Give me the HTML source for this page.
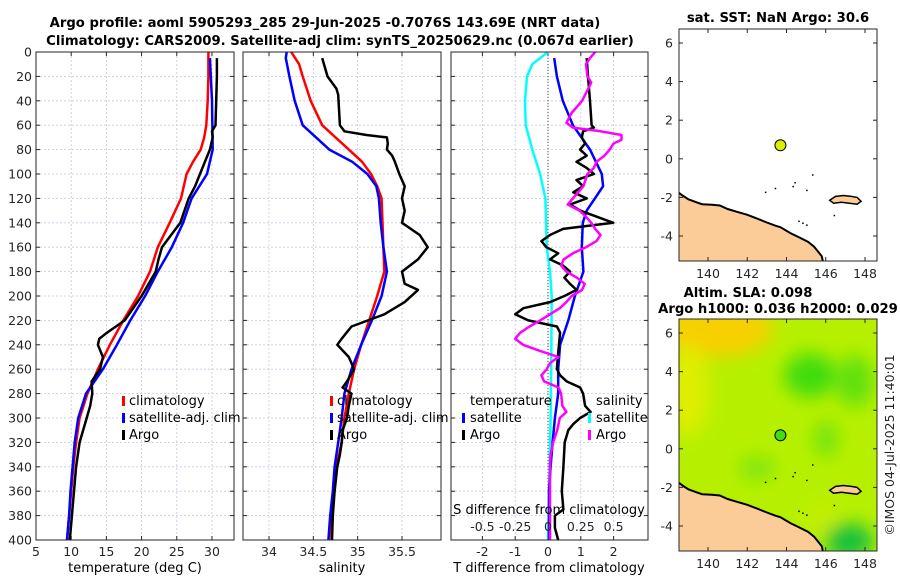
<!DOCTYPE html>
<html><head><meta charset="utf-8">
<style>
html,body{margin:0;padding:0;background:#fff;}
svg{display:block;font-family:"DejaVu Sans","Liberation Sans",sans-serif;}
.tk{font-size:12.5px;fill:#262626;}
.tt{font-size:13.2px;font-weight:bold;fill:#000;}
.lg{font-size:13px;fill:#000;}
</style></head>
<body>
<svg id="fig" width="900" height="580" viewBox="0 0 900 580">
<defs>
<clipPath id="c1"><rect x="36" y="52" width="198" height="488"/></clipPath>
<clipPath id="c2"><rect x="243" y="52" width="198" height="488"/></clipPath>
<clipPath id="c3"><rect x="451" y="52" width="197" height="488"/></clipPath>
<clipPath id="cm1"><rect x="679" y="29" width="198" height="232"/></clipPath>
<clipPath id="cm2"><rect x="679" y="319" width="198" height="232"/></clipPath>
<filter id="blur" x="-50%" y="-50%" width="200%" height="200%"><feGaussianBlur stdDeviation="9"/></filter>
</defs>
<text class="tt" x="325" y="27" text-anchor="middle">Argo profile: aoml 5905293_285 29-Jun-2025 -0.7076S 143.69E (NRT data)</text>
<text class="tt" x="340" y="45" text-anchor="middle">Climatology: CARS2009. Satellite-adj clim: synTS_20250629.nc (0.067d earlier)</text>
<g id="g1"></g>
<g id="g2"></g>
<g id="g3"></g>
<g id="m1"></g>
<g id="m2"></g>
<text class="tt" x="778" y="22" text-anchor="middle">sat. SST: NaN Argo: 30.6</text>
<text class="tt" x="748" y="297" text-anchor="middle">Altim. SLA: 0.098</text>
<text class="tt" x="778" y="313" text-anchor="middle">Argo h1000: 0.036 h2000: 0.029</text>
<text class="tk" transform="translate(894,445) rotate(-90)" text-anchor="middle">©IMOS 04-Jul-2025 11:40:01</text>
</svg>
<script>
// ---------- data ----------
const depthTicks=[0,20,40,60,80,100,120,140,160,180,200,220,240,260,280,300,320,340,360,380,400];
const tempTicks=[5,10,15,20,25,30];
const salTicks=[34,34.5,35,35.5];
const sTickLabels=["-0.5","-0.25","0","0.25","0.5"];
const sTicks=[-0.5,-0.25,0,0.25,0.5];
const tdTicks=[-2,-1,0,1,2];
const climTD=[0,20,40,60,70,80,90,100,120,140,160,180,200,220,240,260,280,300,320,340,360,380,400];
const climT=[29.5,29.5,29.4,29.2,28.9,28.4,27.3,26.4,25.6,24.0,22.3,21.2,19.5,17.4,15.5,13.8,12.3,11.2,10.7,10.3,10.0,9.7,9.4];
const satTD=[5,40,80,100,120,140,160,180,200,220,240,260,280,300,320,340,360,380,400];
const satT=[29.7,30.0,30.1,29.3,27.1,25.9,24.3,22.3,20.5,18.4,16.5,14.5,12.1,11.0,10.5,10.2,9.9,9.7,9.4];
const argoTD=[5,20,60,65,70,80,90,100,110,120,140,150,160,170,180,200,220,230,235,240,250,260,270,280,290,300,320,340,360,380,400];
const argoT=[30.7,30.7,30.5,30.0,30.1,29.7,29.0,28.3,27.6,26.7,25.5,24.2,22.9,22.4,22.0,20.0,17.6,15.1,14.0,13.8,14.5,14.1,12.9,13.0,12.7,12.2,11.2,10.7,10.4,10.1,9.8];
const climSD=[0,10,20,40,60,80,90,100,110,120,140,160,180,200,220,240,260,280,300,320,340,360,380,400];
const climS=[34.25,34.34,34.38,34.47,34.6,34.9,35.05,35.15,35.22,35.27,35.28,35.29,35.3,35.22,35.13,35.04,34.96,34.9,34.85,34.82,34.76,34.73,34.7,34.68];
const satSD=[0,5,20,40,60,80,90,100,110,120,140,160,180,200,220,240,260,280,300,320,340,360,380,400];
const satS=[34.2,34.19,34.23,34.29,34.38,34.68,34.94,35.11,35.21,35.24,35.26,35.29,35.33,35.27,35.16,35.04,34.93,34.85,34.82,34.78,34.74,34.72,34.69,34.67];
const argoSD=[5,20,30,35,60,65,68,70,75,80,85,90,100,110,120,130,140,150,160,170,180,190,195,205,215,225,235,240,250,260,270,275,280,290,300,310,320,330,340,360,380,400];
const argoS=[34.6,34.66,34.76,34.78,34.8,34.85,35.1,35.33,35.34,35.33,35.39,35.42,35.47,35.53,35.5,35.53,35.5,35.7,35.79,35.68,35.5,35.53,35.68,35.53,35.3,34.93,34.82,34.77,34.9,34.96,34.88,34.83,34.93,34.9,34.88,34.83,34.82,34.8,34.77,34.74,34.72,34.71];
const dSatSD=[0,5,10,20,40,60,80,100,120,140,160,180,200,250,300,350,400];
const dSatS=[0,-0.06,-0.12,-0.16,-0.175,-0.17,-0.12,-0.06,-0.02,-0.015,-0.01,0.015,0.028,0.025,0.02,0.01,0.0];
const dSatTD=[5,20,40,60,80,100,110,120,130,140,160,180,200,220,240,260,280,300,320,340,360,400];
const dSatT=[0.19,0.27,0.45,0.76,1.28,1.64,1.68,1.43,1.18,1.06,1.03,1.08,0.82,0.62,0.37,0.31,0.31,0.21,0.14,0.08,0.03,0.03];
const dArgoTD=[5,20,40,60,62,65,70,75,80,85,90,95,100,105,110,115,120,125,130,140,145,150,155,160,165,170,175,180,185,190,195,200,205,210,215,220,225,230,250,260,265,270,275,280,290,295,300,305,310,320,340,360,375,380,390,400];
const dArgoT=[1.18,1.22,1.28,1.33,1.4,1.07,1.03,1.13,0.98,1.18,0.87,1.18,1.4,0.87,1.07,0.77,1.18,0.67,0.98,1.99,0.46,0.06,-0.2,-0.05,0.31,0.06,0.46,0.67,0.5,0.67,0.87,0.5,0.06,-0.75,-1.0,-0.6,0.27,0.37,0.3,0.27,0.37,0.57,0.98,1.07,1.13,1.3,0.98,0.77,0.62,0.51,0.47,0.42,0.47,0.21,0.21,0.31];
const dArgoSD=[0,5,10,20,25,40,50,58,62,65,68,72,75,80,85,90,95,100,110,120,125,130,135,140,145,150,155,160,165,170,175,180,185,190,195,200,205,210,215,220,225,230,235,240,245,250,255,260,265,270,275,280,290,295,300,310,320,330,340,400];
const dArgoS=[0.36,0.32,0.29,0.3,0.33,0.26,0.18,0.14,0.19,0.4,0.56,0.56,0.5,0.47,0.43,0.37,0.35,0.3,0.27,0.19,0.15,0.24,0.29,0.33,0.36,0.4,0.37,0.29,0.19,0.12,0.1,0.14,0.22,0.28,0.26,0.18,0.14,0.09,0.015,-0.06,-0.14,-0.21,-0.25,-0.19,-0.06,0.08,0.015,-0.01,-0.05,-0.03,0.08,0.1,0.11,0.14,0.09,0.07,0.04,0.02,0.015,0.015];
const lonTicks=[140,142,144,146,148];
const latTicks=[6,4,2,0,-2,-4];
const coastLon=[138.5,138.7,139.0,139.4,139.7,140.2,140.6,141.0,141.5,142.0,142.5,143.0,143.4,143.7,144.2,144.7,145.1,145.4,145.6,145.8,145.85];
const coastLat=[-1.75,-1.9,-2.1,-2.25,-2.35,-2.38,-2.42,-2.6,-2.75,-2.9,-3.1,-3.3,-3.45,-3.55,-3.85,-4.1,-4.3,-4.55,-4.8,-5.05,-5.3];
const islandLon=[146.2,146.5,146.9,147.3,147.6,147.8,147.6,147.2,146.8,146.4,146.2];
const islandLat=[-2.15,-1.95,-1.9,-1.95,-2.0,-2.2,-2.35,-2.3,-2.25,-2.3,-2.15];
const dotLon=[142.9,143.4,144.3,144.4,145.0,145.3,146.4,144.6,144.8,145.0];
const dotLat=[-1.7,-1.5,-1.4,-1.2,-1.6,-0.8,-2.9,-3.2,-3.3,-3.4];
const argoLon=143.69, argoLat=0.7;
// ---------- helpers ----------
const NS="http://www.w3.org/2000/svg";
function mk(tag,attrs,parent){const e=document.createElementNS(NS,tag);for(const k in attrs)e.setAttribute(k,attrs[k]);parent.appendChild(e);return e;}
function lin(d0,d1,r0,r1){return v=>r0+(v-d0)*(r1-r0)/(d1-d0);}
const yD=lin(0,400,52,540);
function series(g,xs,ds,sx,color,w,name,clip){
  const p=xs.map((v,i)=>sx(v).toFixed(1)+","+yD(ds[i]).toFixed(1)).join(" ");
  const e=mk("polyline",{points:p,fill:"none",stroke:color,"stroke-width":w,"stroke-linejoin":"round","clip-path":clip},g);
  
  
}
function frame(g,x0,x1,sx,xt,xl,showY){
  for(const d of depthTicks){const y=yD(d);
    if(d>0&&d<400){const gl=mk("line",{x1:x0,x2:x1,y1:y,y2:y,stroke:"#c4c8e4","stroke-width":0.8,"stroke-dasharray":"2,2"},g);
      
      }
    mk("line",{x1:x0,x2:x0+4,y1:y,y2:y,stroke:"#262626"},g);mk("line",{x1:x1-4,x2:x1,y1:y,y2:y,stroke:"#262626"},g);
    if(showY){const t=mk("text",{x:x0-4,y:y+4.5,"text-anchor":"end",class:"tk"},g);t.textContent=d;
      
      }
  }
  xt.forEach((v,i)=>{const x=sx(v);
    const gl=mk("line",{x1:x,x2:x,y1:52,y2:540,stroke:"#c4c8e4","stroke-width":0.8,"stroke-dasharray":"2,2"},g);
    
    
    mk("line",{x1:x,x2:x,y1:540,y2:536,stroke:"#262626"},g);mk("line",{x1:x,x2:x,y1:52,y2:56,stroke:"#262626"},g);
    if(xl){const t=mk("text",{x:x,y:556,"text-anchor":"middle",class:"tk"},g);t.textContent=xl[i];
      
      }
  });
}
function box(g,x0,y0,w,h){const r=mk("rect",{x:x0,y:y0,width:w,height:h,fill:"none",stroke:"#262626","stroke-width":1},g);
  
  }
function txt(g,x,y,s,cls,anchor,name){const t=mk("text",{x:x,y:y,class:cls,"text-anchor":anchor||"start"},g);t.textContent=s;
  
  return t;}
function sw(g,x,y,color){const r=mk("rect",{x:x,y:y-9,width:3,height:10,fill:color},g);
  
  }
// ---------- panel 1 ----------
const g1=document.getElementById("g1");
const sxT=lin(5,33.13,36,234);
frame(g1,36,234,sxT,tempTicks,tempTicks,true);
series(g1,climT,climTD,sxT,"#ff0000",2.5,"climatology-temp-line","url(#c1)");
series(g1,satT,satTD,sxT,"#0000ff",2.5,"satellite-temp-line","url(#c1)");
series(g1,argoT,argoTD,sxT,"#000000",2.5,"argo-temp-line","url(#c1)");
box(g1,36,52,198,488);
txt(g1,135,572,"temperature (deg C)","lg","middle","x-axis-title-temperature");
sw(g1,122,405,"#ff0000");txt(g1,129,405,"climatology","lg","start","legend-climatology");
sw(g1,122,422,"#0000ff");txt(g1,129,422,"satellite-adj. clim","lg","start","legend-satellite");
sw(g1,122,439,"#000000");txt(g1,129,439,"Argo","lg","start","legend-argo");
// ---------- panel 2 ----------
const g2=document.getElementById("g2");
const sxS=lin(34,35.5,269,402);
frame(g2,243,441,sxS,salTicks,salTicks,false);
series(g2,climS,climSD,sxS,"#ff0000",2.5,"climatology-sal-line","url(#c2)");
series(g2,satS,satSD,sxS,"#0000ff",2.5,"satellite-sal-line","url(#c2)");
series(g2,argoS,argoSD,sxS,"#000000",2.5,"argo-sal-line","url(#c2)");
box(g2,243,52,198,488);
txt(g2,342,572,"salinity","lg","middle","x-axis-title-salinity");
sw(g2,330,405,"#ff0000");txt(g2,337,405,"climatology","lg","start","legend-climatology");
sw(g2,330,422,"#0000ff");txt(g2,337,422,"satellite-adj. clim","lg","start","legend-satellite");
sw(g2,330,439,"#000000");txt(g2,337,439,"Argo","lg","start","legend-argo");
// ---------- panel 3 ----------
const g3=document.getElementById("g3");
const sxD=lin(0,1,548,580.8);
const sxDS=lin(0,1,548,679.2);
frame(g3,451,648,sxD,tdTicks,tdTicks,false);
const zl=mk("line",{x1:548,x2:548,y1:52,y2:540,stroke:"#445522","stroke-width":1,"stroke-dasharray":"1,2"},g3);


series(g3,dSatS,dSatSD,sxDS,"#00ffff",2.5,"satellite-sal-diff-line","url(#c3)");
series(g3,dSatT,dSatTD,sxD,"#0000ff",2.5,"satellite-temp-diff-line","url(#c3)");
series(g3,dArgoT,dArgoTD,sxD,"#000000",2.5,"argo-temp-diff-line","url(#c3)");
series(g3,dArgoS,dArgoSD,sxDS,"#ff00ff",2.5,"argo-sal-diff-line","url(#c3)");
box(g3,451,52,197,488);
txt(g3,549,572,"T difference from climatology","lg","middle","x-axis-title-t-diff");
txt(g3,549,514,"S difference from climatology","lg","middle","x-axis-title-s-diff");
sTicks.forEach((v,i)=>{txt(g3,sxDS(v),531,sTickLabels[i],"tk","middle","s-tick-label");});
txt(g3,470,405,"temperature","lg","start","legend-temperature-header");
sw(g3,462,422,"#0000ff");txt(g3,470,422,"satellite","lg","start","legend-t-satellite");
sw(g3,462,439,"#000000");txt(g3,470,439,"Argo","lg","start","legend-t-argo");
txt(g3,596,405,"salinity","lg","start","legend-salinity-header");
sw(g3,588,422,"#00ffff");txt(g3,596,422,"satellite","lg","start","legend-s-satellite");
sw(g3,588,439,"#ff00ff");txt(g3,596,439,"Argo","lg","start","legend-s-argo");
// ---------- maps ----------
const sxL=lin(140,148,708,865);
function map(id,top,clip,colored){
  const g=document.getElementById(id);
  const syL=lin(6,-4,top+14,top+207);
  if(colored){
    const f=mk("g",{"clip-path":clip},g);
    mk("rect",{x:679,y:top,width:198,height:232,fill:"#b6f000"},f);
    const b=mk("g",{filter:"url(#blur)"},f);
    mk("ellipse",{cx:sxL(140.5),cy:syL(6.2),rx:55,ry:28,fill:"#f8d000"},b);
    mk("ellipse",{cx:sxL(139),cy:syL(3),rx:20,ry:45,fill:"#e0ee00"},b);
    mk("ellipse",{cx:sxL(145.2),cy:syL(3.8),rx:26,ry:22,fill:"#40dc10"},b);
    mk("ellipse",{cx:sxL(147.5),cy:syL(3.5),rx:18,ry:26,fill:"#60e010"},b);
    mk("ellipse",{cx:sxL(146),cy:syL(0.5),rx:12,ry:18,fill:"#70e410"},b);
    mk("ellipse",{cx:sxL(142.5),cy:syL(-1),rx:18,ry:12,fill:"#80e610"},b);
    mk("ellipse",{cx:sxL(147.2),cy:syL(-4.8),rx:24,ry:18,fill:"#18c040"},b);
    mk("ellipse",{cx:sxL(145.8),cy:syL(-3.5),rx:12,ry:14,fill:"#c8ee00"},b);
  }
  const pts=coastLon.map((v,i)=>sxL(v).toFixed(1)+","+syL(coastLat[i]).toFixed(1));
  const land=mk("polygon",{points:pts.join(" ")+" "+sxL(145.85)+","+(top+232)+" 679,"+(top+232),fill:"#fccc98",stroke:"none","clip-path":clip},g);
  
  
  const cl=mk("polyline",{points:pts.join(" "),fill:"none",stroke:"#000","stroke-width":2,"clip-path":clip},g);
  
  
  const isl=mk("polygon",{points:islandLon.map((v,i)=>sxL(v).toFixed(1)+","+syL(islandLat[i]).toFixed(1)).join(" "),fill:"#fccc98",stroke:"#000","stroke-width":1.5},g);
  
  
  dotLon.forEach((v,i)=>{const d=mk("rect",{x:sxL(v),y:syL(dotLat[i]),width:1.5,height:1.5,fill:"#000"},g);
    
    });
  const dot=mk("circle",{cx:sxL(argoLon),cy:syL(argoLat),r:5.5,fill:colored?"#40dc10":"#d8f000",stroke:"#000","stroke-width":1},g);
  
  
  box(g,679,top,198,232);
  lonTicks.forEach(v=>{const x=sxL(v);mk("line",{x1:x,x2:x,y1:top,y2:top+4,stroke:"#262626"},g);mk("line",{x1:x,x2:x,y1:top+232,y2:top+228,stroke:"#262626"},g);
    txt(g,x,top+249,String(v),"tk","middle","lon-tick-label");});
  latTicks.forEach(v=>{const y=syL(v);mk("line",{x1:679,x2:683,y1:y,y2:y,stroke:"#262626"},g);mk("line",{x1:873,x2:877,y1:y,y2:y,stroke:"#262626"},g);
    txt(g,673,y+4.5,String(v),"tk","end","lat-tick-label");});
}
map("m1",29,"url(#cm1)",false);
map("m2",319,"url(#cm2)",true);
</script>
</body></html>
